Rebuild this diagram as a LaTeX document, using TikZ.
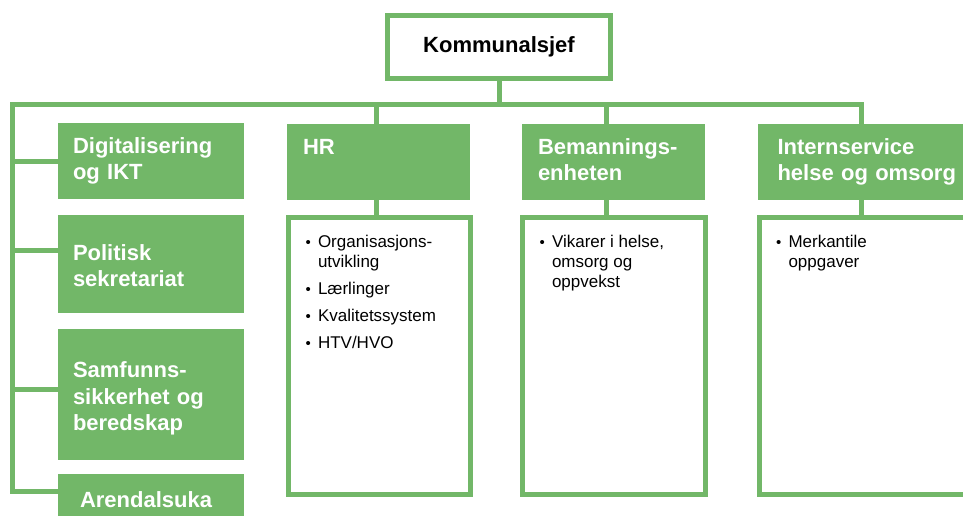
\documentclass[tikz,border=0pt]{standalone}
\usepackage{fontspec}
\setmainfont{Liberation Sans}
\usetikzlibrary{positioning}

\definecolor{orggreen}{RGB}{114,183,104}
\newcommand{\headfont}{\fontsize{22}{26.5}\selectfont\bfseries}
\newcommand{\listfont}{\fontsize{17}{20}\selectfont}
% one bullet point, second line hangs under the text
\newcommand{\bpunkt}[1]{\par\hangindent=13pt\hangafter=1\noindent
  \makebox[13pt][l]{\hspace{0.5pt}\raisebox{0.5pt}{\fontsize{15}{15}\selectfont\textbullet}}#1}
\newcommand{\liste}[2]{\parbox[t][241pt][t]{#1}{\listfont\raggedright\parskip=7pt #2}}

\begin{document}
\begin{tikzpicture}[x=1pt,y=-1pt,
    head/.style={fill=orggreen, text=white, font=\headfont, align=left, anchor=north west,
      inner xsep=15pt, inner ysep=0pt, outer sep=0pt,
      execute at begin node=\strut, execute at end node=\strut},
    lowtext/.style={execute at begin node={\rule{0pt}{27pt}}},
    listbox/.style={draw=orggreen, line width=5pt, fill=white, anchor=north west,
      inner xsep=16.5pt, inner ysep=18pt, outer sep=0pt},
    chiefbox/.style={draw=orggreen, line width=5pt, fill=white, font=\headfont,
      minimum width=223pt, minimum height=63pt, outer sep=0pt},
    link/.style={draw=orggreen, line width=5pt}]
  \useasboundingbox (0,0) rectangle (963,515);
  \clip (0,0) rectangle (963,515);

  \node[chiefbox] (chief) at (499,47) {Kommunalsjef};

  % staff units on the left
  \node[head, text width=156pt, minimum height=76pt] (dig) at (58,123) {Digitalisering\\og IKT};
  \node[head, lowtext, text width=156pt, minimum height=98pt] (pol) at (58,215) {Politisk\\sekretariat};
  \node[head, lowtext, text width=156pt, minimum height=131pt] (sam) at (58,329) {Samfunns-\\sikkerhet og\\beredskap};
  \node[head, text width=142pt, inner xsep=22pt, minimum height=56pt] (are) at (58,474) {Arendalsuka};

  % units with task lists
  \node[head, text width=151pt, inner xsep=16pt, minimum height=76pt] (hr) at (287,124) {HR\\\mbox{}};
  \node[head, text width=151pt, inner xsep=16pt, minimum height=76pt] (beman) at (522,124) {Bemannings-\\enheten};
  \node[head, text width=190pt, inner xsep=20pt, minimum height=76pt] (intern) at (757.5,124) {Internservice\\helse og omsorg};

  \node[listbox] (hrlist) at (288.5,217.5) {\liste{149pt}{%
    \bpunkt{Organisasjons-\newline utvikling}
    \bpunkt{Lærlinger}
    \bpunkt{Kvalitetssystem}
    \bpunkt{HTV/HVO}}};
  \node[listbox] (bemanlist) at (522.5,217.5) {\liste{150pt}{%
    \bpunkt{Vikarer i helse,\newline omsorg og\newline oppvekst}}};
  \node[listbox] (internlist) at (759,217.5) {\liste{180pt}{%
    \bpunkt{Merkantile\newline oppgaver}}};

  % connectors
  \coordinate (busL) at (12.5,104.5);
  \coordinate (busR) at (861.5,104.5);
  \coordinate (hrx) at (376,0);
  \coordinate (bemx) at (606,0);

  \draw[link] (chief.south) -- (chief.south |- busL);
  \draw[link] (intern.north -| busR) -- (busR) -- (busL) |- ([yshift=11pt]are.west);
  \draw[link] (dig.west) -| (busL);
  \draw[link] ([yshift=14pt]pol.west) -| (busL);
  \draw[link] ([yshift=5.5pt]sam.west) -| (busL);
  \draw[link] (hr.north -| hrx) -- (busL -| hrx);
  \draw[link] (beman.north -| bemx) -- (busL -| bemx);
  \draw[link] (hr.south -| hrx) -- (hrlist.north -| hrx);
  \draw[link] (beman.south -| bemx) -- (bemanlist.north -| bemx);
  \draw[link] (intern.south -| busR) -- (internlist.north -| busR);
\end{tikzpicture}
\end{document}
